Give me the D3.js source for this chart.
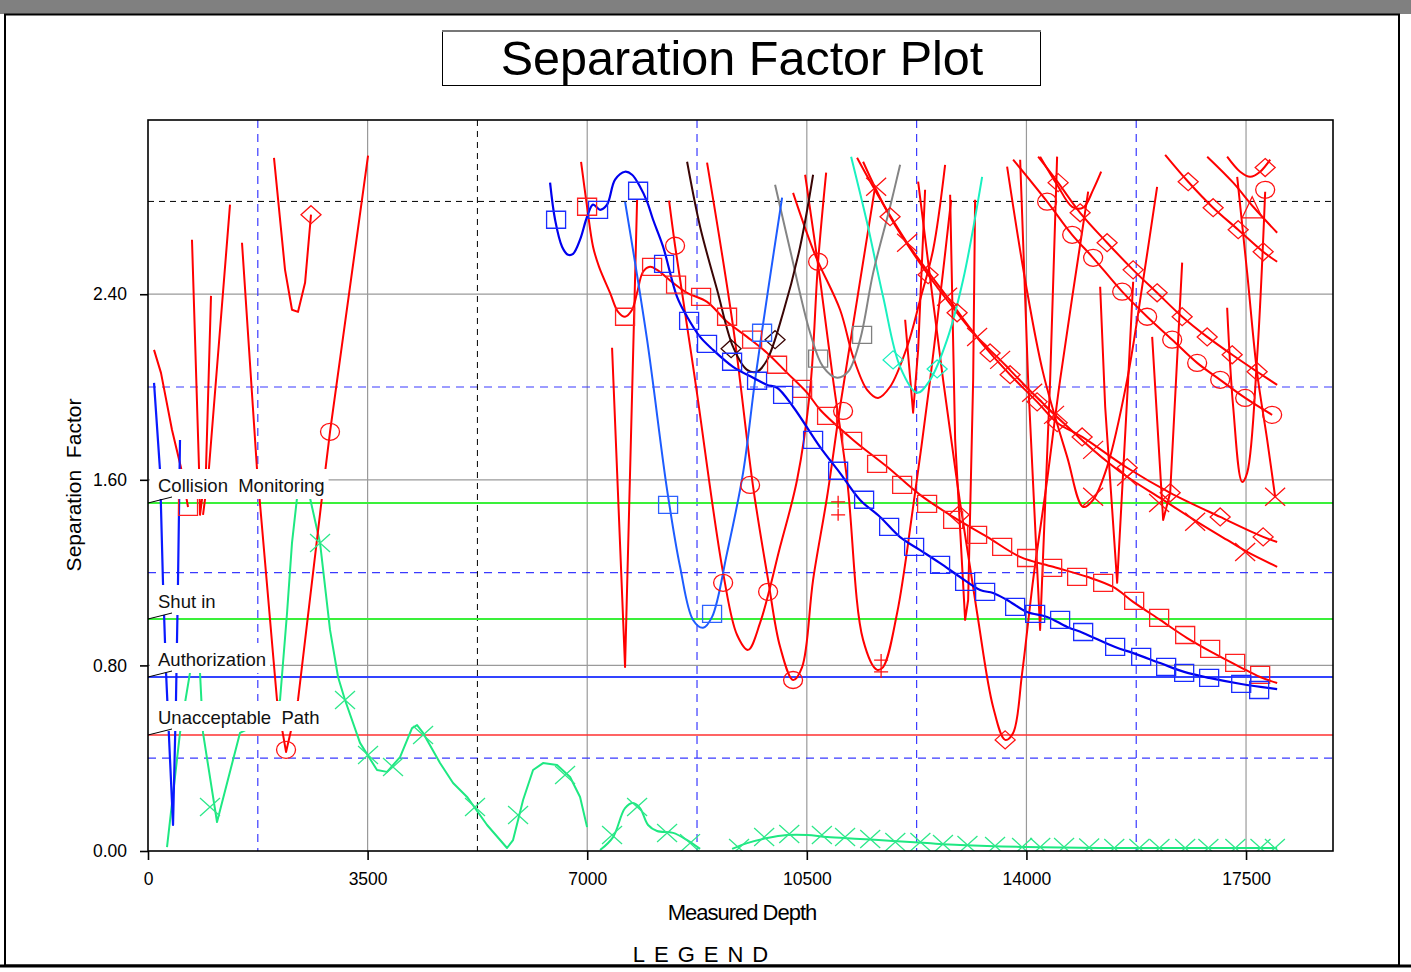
<!DOCTYPE html>
<html><head><meta charset="utf-8">
<script src="https://cdn.jsdelivr.net/npm/d3@7"></script>
<style>body{margin:0;background:#fff;} svg{display:block;font-family:"Liberation Sans",Arial,Helvetica,sans-serif;}</style>
</head><body><svg id="c" width="1411" height="972"></svg>
<script>
// ---------------- DATA ----------------
const xTicks = [0, 3500, 7000, 10500, 14000, 17500];
const yTicks = [0, 0.8, 1.6, 2.4];
const xGridSolid = [3500, 7000, 10500, 14000, 17500];
const xGridBlueDash = [1750, 8750, 12250, 15750];
const xGridBlackDash = [5250];
const yGridSolid = [0.8, 1.6, 2.4];
const yGridBlueDash = [0.4, 1.2, 2.0];
const yGridBlackDash = [2.8];
const thresholdLabels = ["Collision  Monitoring", "Shut in", "Authorization", "Unacceptable  Path"];
const thresholdValues = [1.5, 1.0, 0.75, 0.5];

// main offset well (blue, squares)
const blueMain = [[6408,2.881],[6488,2.721],[6599,2.605],[6695,2.570],[6775,2.574],[6886,2.635],[6998,2.734],[7093,2.786],[7205,2.764],[7316,2.786],[7444,2.894],[7603,2.928],[7715,2.915],[7842,2.863],[7954,2.799],[8050,2.721],[8209,2.605],[8432,2.389],[8592,2.303],[8799,2.216],[9006,2.160],[9325,2.087],[9644,2.040],[9867,2.009],[10026,1.997],[10281,1.915],[10712,1.741],[11030,1.629],[11349,1.513],[11668,1.440],[11987,1.353],[12306,1.297],[12624,1.241],[12943,1.181],[13262,1.125],[13469,1.112],[13692,1.082],[14011,1.030],[14330,1.009],[14649,0.966],[14904,0.940],[15414,0.879],[15701,0.853],[16131,0.810],[16514,0.772],[16912,0.746],[17423,0.720],[17996,0.698]];
const blueMainMarks = [[6504,2.721],[7173,2.764],[7811,2.846],[8225,2.531],[8624,2.285],[8910,2.186],[9309,2.109],[9707,2.027],[10122,1.966],[10600,1.772],[10999,1.639],[11413,1.514],[11812,1.397],[12210,1.311],[12624,1.233],[13023,1.160],[13342,1.117],[13820,1.052],[14139,1.022],[14537,0.996],[14904,0.944],[15414,0.880],[15829,0.837],[16227,0.794],[16514,0.768],[16912,0.746],[17423,0.720],[17709,0.694]];
// red well with squares
const redSquare = [[6902,2.971],[6998,2.777],[7093,2.605],[7189,2.518],[7364,2.406],[7492,2.324],[7603,2.303],[7715,2.333],[7795,2.406],[7890,2.497],[8002,2.518],[8113,2.505],[8369,2.449],[8592,2.406],[8910,2.367],[9229,2.281],[9548,2.216],[9867,2.147],[10186,2.061],[10505,1.975],[10712,1.902],[11238,1.772],[11780,1.656],[12306,1.535],[12832,1.440],[13374,1.354],[13900,1.268],[14426,1.225],[14968,1.182],[15382,1.138],[15701,1.074],[16131,0.996],[16562,0.918],[16976,0.854],[17406,0.793],[17725,0.750],[17996,0.724]];
const redSquareMarks = [[638,1.483],[6998,2.777],[7603,2.303],[8034,2.518],[8416,2.441],[8815,2.389],[9229,2.303],[9628,2.204],[10026,2.096],[10425,1.992],[10823,1.876],[11222,1.768],[11620,1.669],[12019,1.578],[12417,1.496],[12832,1.427],[13214,1.363],[13613,1.311],[14011,1.263],[14410,1.220],[14808,1.182],[15223,1.156],[15717,1.078],[16115,1.005],[16530,0.931],[16928,0.871],[17327,0.811],[17725,0.759]];
// light blue V
const blueV = [[7603,2.799],[7954,2.204],[8273,1.557],[8480,1.225],[8687,0.996],[8847,0.962],[8990,1.009],[9229,1.285],[9484,1.630],[9676,2.031],[9883,2.419],[10106,2.816]];
const blueVMarks = [[8289,1.492],[8990,1.022],[9787,2.234]];
const blueLeft = [[96,2.018],[191,1.643],[239,1.156],[287,0.772],[399,0.112],[446,0.651],[478,1.156],[510,1.772]];
// maroon, gray, teal
const maroonU = [[8592,2.971],[8799,2.691],[9070,2.419],[9325,2.173],[9548,2.074],[9707,2.066],[9867,2.117],[10122,2.320],[10393,2.605],[10600,2.915]];
const maroonMarks = [[9293,2.165],[9994,2.204]];
const grayU = [[9994,2.872],[10233,2.592],[10552,2.234],[10760,2.087],[10983,2.040],[11158,2.066],[11349,2.204],[11557,2.492],[11827,2.777],[11987,2.958]];
const grayMarks = [[10680,2.122],[11381,2.225]];
const tealU = [[11206,2.993],[11461,2.708],[11716,2.389],[11987,2.087],[12258,1.975],[12465,2.031],[12736,2.204],[12991,2.462],[13294,2.906]];
const tealMarks = [[11875,2.117],[12577,2.078]];
// green well with X
const green1 = [[303,0.017],[510,0.509],[669,0.768],[749,0.888],[829,0.768],[877,0.509],[1100,0.125],[1466,0.509],[1817,0.556],[1945,0.582],[2104,0.651],[2216,1.026],[2295,1.328],[2375,1.522],[2471,1.608],[2582,1.522],[2742,1.328],[2901,0.953],[3029,0.750],[3140,0.651],[3379,0.466],[3650,0.349],[3810,0.341],[4017,0.405],[4208,0.530],[4288,0.543],[4384,0.509],[4654,0.379],[4862,0.293],[5085,0.233],[5404,0.112],[5722,0.013],[5818,0.047],[5978,0.220],[6137,0.349],[6296,0.379],[6519,0.371],[6727,0.319],[6886,0.233],[6998,0.103]];
const green2 = [[7205,0.004],[7412,0.060],[7603,0.185],[7731,0.207],[7842,0.185],[7970,0.112],[8113,0.086],[8369,0.078],[8592,0.047],[8799,0.009]];
const green3 = [[9309,0.009],[9548,0.034],[9867,0.056],[10186,0.069],[10505,0.069],[10823,0.060],[11349,0.052],[11875,0.043],[12417,0.034],[12943,0.026],[14011,0.017],[15175,0.013],[16769,0.013],[17996,0.013]];
const greenMarks = [[988,0.190],[2742,1.328],[3140,0.651],[3507,0.414],[3905,0.362],[4384,0.500],[5212,0.190],[5898,0.155],[6647,0.328],[7396,0.069],[7795,0.190],[8273,0.078],[8639,0.034],[9420,0.013],[9820,0.060],[10220,0.073],[10740,0.069],[11110,0.060],[11510,0.052],[11910,0.039],[12310,0.039],[12670,0.030],[13060,0.026],[13500,0.022],[13930,0.017],[14220,0.017],[14600,0.017],[15000,0.015],[15400,0.013],[15800,0.013],[16120,0.013],[16530,0.013],[16900,0.013],[17330,0.013],[17730,0.013],[17960,0.013]];
// red wells (thin curves)
const red1 = [[96,2.160],[207,2.061],[383,1.815],[526,1.652],[638,1.483]];
const red2 = [[701,2.635],[813,1.652],[829,1.449],[925,1.652],[1004,2.393]];
const red3 = [[877,1.449],[972,1.652],[1307,2.786]];
const red4 = [[1498,2.622],[1737,1.647],[2056,0.651],[2200,0.427],[2391,0.651],[2774,1.527],[2901,1.807],[3507,2.997]];
const red5 = [[2008,2.988],[2184,2.505],[2295,2.333],[2391,2.324],[2503,2.449],[2598,2.743]];
const red6 = [[7396,2.169],[7603,0.793],[7795,2.807]];
const red7 = [[8305,2.803],[8400,2.609],[8719,2.031],[9166,1.199],[9389,0.931],[9564,0.867],[9755,0.983],[10074,1.311],[10345,1.600],[10552,1.988],[10680,2.540],[10808,2.924]];
const red8 = [[8910,2.967],[9325,2.260],[9644,1.570],[9883,1.169],[10074,0.880],[10281,0.737],[10425,0.793],[10600,1.169],[10823,1.527],[11030,1.915],[11301,2.376],[11588,2.863]];
const red9 = [[10473,2.915],[10712,2.462],[10919,2.031],[11142,1.600],[11397,0.910],[11620,0.781],[11716,0.793],[11939,1.026],[12194,1.483],[12465,2.031],[12656,2.462],[12800,2.807]];
const red10 = [[10281,2.837],[10632,2.570],[11030,2.333],[11238,2.130],[11461,1.988],[11636,1.953],[11827,2.001],[12098,2.173],[12306,2.376],[12513,2.592],[12704,2.958]];
const red11 = [[12067,2.290],[12194,1.889],[12274,2.160],[12385,2.850]];
const red12 = [[12784,2.829],[12864,1.772],[13023,0.996],[13071,1.082],[13151,2.031],[13182,2.807]];
const red13 = [[12274,2.885],[12672,2.031],[12943,1.501],[13214,1.026],[13469,0.621],[13661,0.479],[13788,0.509],[13932,0.768],[14107,1.169],[14330,1.600],[14537,2.031],[14984,2.842]];
const red14 = [[13900,2.980],[14027,2.031],[14218,0.953],[14378,2.031],[14489,2.993]];
const red15 = [[13692,2.950],[13979,2.462],[14266,2.061],[14649,1.699],[14904,1.483],[15063,1.514],[15286,1.656],[15605,2.031],[15861,2.462],[16083,2.863]];
const red16 = [[15175,2.432],[15255,1.915],[15446,1.156],[15621,2.031],[15701,2.454]];
const red17 = [[16004,2.216],[16179,1.427],[16291,1.544],[16482,2.536]];
const red18 = [[17199,2.342],[17295,1.915],[17438,1.591],[17518,1.630],[17677,2.130],[17805,2.842]];
const red19 = [[17359,2.906],[17518,2.492],[17677,2.061],[17837,1.772],[17964,1.527]];
const red20 = [[14218,2.993],[14489,2.872],[14729,2.777],[14904,2.773],[15063,2.850],[15191,2.928]];
const red21 = [[17199,2.993],[17406,2.928],[17566,2.906],[17725,2.928],[17885,2.980]];
// red diagonal wells
const redDiagX = [[11301,2.988],[11557,2.863],[12098,2.622],[12736,2.389],[13214,2.216],[13581,2.117],[14091,1.975],[14537,1.859],[15063,1.729],[15605,1.613],[16131,1.522],[16721,1.419],[17199,1.341],[17518,1.289],[17996,1.225]];
const redDiagD1 = [[11397,2.971],[11827,2.734],[12433,2.484],[12895,2.320],[13421,2.147],[13740,2.053],[14171,1.936],[14490,1.846],[14888,1.785],[15605,1.652],[16291,1.544],[17088,1.440],[17773,1.354],[17996,1.332]];
const redDiagC = [[13788,2.980],[14330,2.799],[14729,2.656],[15063,2.557],[15526,2.411],[15924,2.303],[16323,2.204],[16721,2.104],[17088,2.031],[17486,1.953],[17916,1.880]];
const redDiagD2 = [[14187,2.993],[14505,2.881],[14856,2.751],[15286,2.622],[15701,2.505],[16083,2.406],[16482,2.303],[16881,2.216],[17279,2.139],[17677,2.066],[17996,2.009]];
const redDiagD3 = [[16211,3.001],[16578,2.885],[16976,2.773],[17375,2.678],[17773,2.583],[17996,2.540]];
const redDiagT = [[16881,2.993],[17295,2.881],[17614,2.777],[17996,2.665]];
const redCircleMarks = [[2200,0.436],[2901,1.807],[8400,2.609],[9166,1.156],[10680,2.540],[9596,1.578],[9883,1.117],[10281,0.737],[11078,1.897],[14330,2.799],[14729,2.656],[15063,2.557],[15526,2.411],[15924,2.303],[16323,2.204],[16721,2.104],[17088,2.031],[17486,1.953],[17916,1.880],[17805,2.850]];
const redDiamondMarks = [[2598,2.743],[13661,0.479],[12927,1.449],[11827,2.734],[12433,2.484],[12895,2.320],[13421,2.147],[13740,2.053],[14171,1.936],[14490,1.846],[14888,1.785],[15605,1.652],[16291,1.544],[17088,1.440],[17773,1.354],[14505,2.881],[14856,2.751],[15286,2.622],[15701,2.505],[16083,2.406],[16482,2.303],[16881,2.216],[17279,2.139],[17677,2.066],[16578,2.885],[16976,2.773],[17375,2.678],[17773,2.583],[17805,2.946]];
const redXMarks = [[11605,2.863],[12098,2.622],[12736,2.389],[13214,2.216],[13581,2.117],[14091,1.975],[14440,1.880],[15063,1.729],[15605,1.613],[16115,1.500],[16689,1.419],[17486,1.289],[17964,1.527],[15063,1.527]];
const redPlusMarks = [[10999,1.505],[10999,1.449],[11684,0.823],[11684,0.772]];
const redTriangleMarks = [[17598,2.764]];

// ---------------- DRAW ----------------
const svg = d3.select('#c');
const W = 1411, H = 972;
const L = 148, R = 1333, T = 120, B = 851;
const x = d3.scaleLinear().domain([0, 18886]).range([L, R]);
const y = d3.scaleLinear().domain([0, 3.151]).range([B, T]);

// page frame
svg.append('rect').attr('x',0).attr('y',0).attr('width',W).attr('height',H).attr('fill','#fff');
svg.append('rect').attr('x',0).attr('y',0).attr('width',W).attr('height',14).attr('fill','#808080');
svg.append('rect').attr('x',5).attr('y',14.5).attr('width',1394).attr('height',951).attr('fill','none').attr('stroke','#000').attr('stroke-width',2);
svg.append('line').attr('x1',0).attr('x2',W).attr('y1',966).attr('y2',966).attr('stroke','#000').attr('stroke-width',3);

// title
svg.append('rect').attr('x',442.5).attr('y',30.5).attr('width',598).attr('height',55).attr('fill','#fff').attr('stroke','#000').attr('stroke-width',1);
svg.append('line').attr('x1',442).attr('x2',1041).attr('y1',31).attr('y2',31).attr('stroke','#777').attr('stroke-width',2);
svg.append('text').attr('x',742).attr('y',75).attr('text-anchor','middle').attr('font-size',48.5).text('Separation Factor Plot');

const defs = svg.append('defs');
defs.append('clipPath').attr('id','plot').append('rect').attr('x',L).attr('y',T).attr('width',R-L).attr('height',B-T);

const grid = svg.append('g');
grid.selectAll(null).data(xGridSolid).join('line').attr('x1',d=>x(d)).attr('x2',d=>x(d)).attr('y1',T).attr('y2',B).attr('stroke','#9a9a9a').attr('stroke-width',1.2);
grid.selectAll(null).data(yGridSolid).join('line').attr('y1',d=>y(d)).attr('y2',d=>y(d)).attr('x1',L).attr('x2',R).attr('stroke','#9a9a9a').attr('stroke-width',1.2);
grid.selectAll(null).data(xGridBlueDash).join('line').attr('x1',d=>x(d)).attr('x2',d=>x(d)).attr('y1',T).attr('y2',B).attr('stroke','#3a3aff').attr('stroke-width',1.2).attr('stroke-dasharray','8,6');
grid.selectAll(null).data(yGridBlueDash).join('line').attr('y1',d=>y(d)).attr('y2',d=>y(d)).attr('x1',L).attr('x2',R).attr('stroke','#3a3aff').attr('stroke-width',1.2).attr('stroke-dasharray','8,6');
grid.selectAll(null).data(xGridBlackDash).join('line').attr('x1',d=>x(d)).attr('x2',d=>x(d)).attr('y1',T).attr('y2',B).attr('stroke','#000').attr('stroke-width',1).attr('stroke-dasharray','6,5');
grid.selectAll(null).data(yGridBlackDash).join('line').attr('y1',d=>y(d)).attr('y2',d=>y(d)).attr('x1',L).attr('x2',R).attr('stroke','#000').attr('stroke-width',1).attr('stroke-dasharray','6,5');

// thresholds
const thrColors = ['#3af03a','#3af03a','#3344ff','#ff3030'];
const thrWidths = [2,2,2.2,1.6];
grid.selectAll(null).data(thresholdValues).join('line').attr('y1',d=>y(d)).attr('y2',d=>y(d)).attr('x1',L).attr('x2',R)
  .attr('stroke',(d,i)=>thrColors[i]).attr('stroke-width',(d,i)=>thrWidths[i]);

// series
const plot = svg.append('g').attr('clip-path','url(#plot)');
const smooth = d3.line().x(d=>x(d[0])).y(d=>y(d[1])).curve(d3.curveCatmullRom.alpha(0.5));
const straight = d3.line().x(d=>x(d[0])).y(d=>y(d[1]));
const series = [
  {d: green1, c:'#1ee882', w:2, s:false}, {d: green2, c:'#1ee882', w:2, s:true}, {d: green3, c:'#1ee882', w:2, s:true},
  {d: red1, c:'#ff0000', w:2, s:false}, {d: red2, c:'#ff0000', w:2, s:false}, {d: red3, c:'#ff0000', w:2, s:false},
  {d: red4, c:'#ff0000', w:2, s:false}, {d: red5, c:'#ff0000', w:2, s:false}, {d: red6, c:'#ff0000', w:2, s:false},
  {d: red7, c:'#ff0000', w:2, s:true}, {d: red8, c:'#ff0000', w:2, s:true}, {d: red9, c:'#ff0000', w:2, s:true},
  {d: red10, c:'#ff0000', w:2, s:true}, {d: red11, c:'#ff0000', w:2, s:false}, {d: red12, c:'#ff0000', w:2, s:false},
  {d: red13, c:'#ff0000', w:2, s:true}, {d: red14, c:'#ff0000', w:2, s:false}, {d: red15, c:'#ff0000', w:2, s:true},
  {d: red16, c:'#ff0000', w:2, s:false}, {d: red17, c:'#ff0000', w:2, s:false}, {d: red18, c:'#ff0000', w:2, s:true},
  {d: red19, c:'#ff0000', w:2, s:true}, {d: red20, c:'#ff0000', w:2, s:true}, {d: red21, c:'#ff0000', w:2, s:true},
  {d: redDiagX, c:'#ff0000', w:2, s:true}, {d: redDiagD1, c:'#ff0000', w:2, s:true}, {d: redDiagC, c:'#ff0000', w:2, s:true},
  {d: redDiagD2, c:'#ff0000', w:2, s:true}, {d: redDiagD3, c:'#ff0000', w:2, s:true}, {d: redDiagT, c:'#ff0000', w:2, s:true},
  {d: redSquare, c:'#ff0000', w:2, s:true},
  {d: blueLeft, c:'#0a1aff', w:2.2, s:false},
  {d: tealU, c:'#19f0c0', w:2, s:true}, {d: grayU, c:'#848484', w:2, s:true}, {d: maroonU, c:'#3a0505', w:2, s:true},
  {d: blueV, c:'#1d5cff', w:2, s:true},
  {d: blueMain, c:'#0000ee', w:2.2, s:true}
];
plot.selectAll('path.s').data(series).join('path').attr('class','s')
  .attr('d', o => (o.s ? smooth : straight)(o.d)).attr('fill','none')
  .attr('stroke', o=>o.c).attr('stroke-width', o=>o.w).attr('stroke-linejoin','round');

const shapes = {
  square: 'M-9.5,-8.5H9.5V8.5H-9.5Z',
  circle: 'M-9.5,0A9.5,8.5 0 1,0 9.5,0A9.5,8.5 0 1,0 -9.5,0Z',
  diamond: 'M0,-9L10,0L0,9L-10,0Z',
  x: 'M-10,-9L10,9M-10,9L10,-9',
  plus: 'M-7,0H7M0,-6V6',
  triangle: 'M0,-13L10,8H-10Z'
};
function marks(data, shape, color){
  plot.append('g').selectAll('path').data(data).join('path').attr('d', shapes[shape])
    .attr('transform', d=>`translate(${x(d[0])},${y(d[1])})`)
    .attr('fill','none').attr('stroke',color).attr('stroke-width',1.3);
}
marks(greenMarks,'x','#2ee88a');
marks(redSquareMarks,'square','#ff2020');
marks(redCircleMarks,'circle','#ff1010');
marks(redDiamondMarks,'diamond','#ff1010');
marks(redXMarks,'x','#ff1010');
marks(redPlusMarks,'plus','#ff1010');
marks(redTriangleMarks,'triangle','#ff1010');
marks(tealMarks,'diamond','#19f0c0');
marks(grayMarks,'square','#808080');
marks(maroonMarks,'diamond','#3a0505');
marks(blueVMarks,'square','#2d62ff');
marks(blueMainMarks,'square','#1a2cff');

// threshold labels with white boxes
const lab = svg.append('g');
thresholdLabels.forEach((t,i)=>{
  const yy = y(thresholdValues[i]);
  const g = lab.append('g');
  const rect = g.append('rect').attr('x',150).attr('y',yy-34).attr('height',30).attr('fill','#fff');
  const tx = g.append('text').attr('x',158).attr('y',yy-11).attr('font-size',18.5).attr('fill','#111').style('white-space','pre').text(t);
  const len = tx.node().getComputedTextLength();
  rect.attr('width', len + 12);
  g.append('line').attr('x1',L).attr('y1',yy).attr('x2',L+24).attr('y2',yy-6).attr('stroke','#000').attr('stroke-width',1);
});

// plot frame
svg.append('rect').attr('x',L).attr('y',T).attr('width',R-L).attr('height',B-T).attr('fill','none').attr('stroke','#000').attr('stroke-width',1.6);

// axes
const ax = svg.append('g').attr('transform',`translate(${L},0)`)
  .call(d3.axisLeft(y).tickValues(yTicks).tickFormat(d3.format('.2f')).tickSize(8).tickPadding(13));
const bx = svg.append('g').attr('transform',`translate(0,${B})`)
  .call(d3.axisBottom(x).tickValues(xTicks).tickFormat(d3.format('d')).tickSize(9).tickPadding(13));
[ax,bx].forEach(a=>{
  a.select('.domain').remove();
  a.selectAll('line').attr('stroke','#000').attr('stroke-width',1.6);
  a.selectAll('text').attr('font-size',17.5).attr('fill','#000').attr('font-family','"Liberation Sans",Arial,sans-serif');
});

svg.append('text').attr('x',742).attr('y',920).attr('text-anchor','middle').attr('font-size',22).attr('letter-spacing',-1).text('Measured Depth');
svg.append('text').attr('transform','translate(81,485) rotate(-90)').attr('text-anchor','middle').attr('font-size',21).style('white-space','pre').text('Separation  Factor');
svg.append('text').attr('x',705).attr('y',962).attr('text-anchor','middle').attr('font-size',22).attr('letter-spacing',9).text('LEGEND');
</script></body></html>
